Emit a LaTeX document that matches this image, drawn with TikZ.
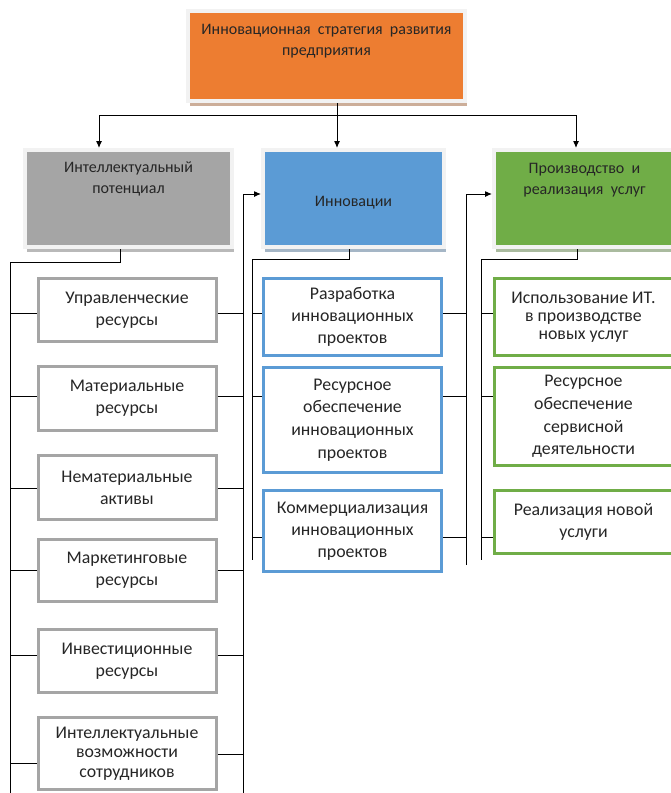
\documentclass[tikz,border=0pt]{standalone}
\usepackage{fontspec}
\setmainfont{Carlito}
\usetikzlibrary{positioning, arrows.meta, shadows}

\definecolor{orangeAcc}{HTML}{ED7D31}
\definecolor{grayAcc}{HTML}{A5A5A5}
\definecolor{blueAcc}{HTML}{5B9BD5}
\definecolor{greenAcc}{HTML}{70AD47}
\definecolor{textDark}{HTML}{262626}

\newcommand{\hdrfont}{\fontsize{16}{21.5}\selectfont}
\newcommand{\itemfont}{\fontsize{17.8}{22}\selectfont}

\begin{document}
\begin{tikzpicture}[
  x=1pt, y=-1pt,
  header/.style = {rectangle, fill=#1, draw=black!5, line width=4pt, inner sep=0pt,
    general shadow={fill=#1!60!black!45, shadow xshift=2pt, shadow yshift=-5pt}},
  headtext/.style = {align=center, font=\hdrfont, text=textDark, inner sep=0pt},
  item/.style = {rectangle, draw=#1, line width=3pt, fill=white, minimum width=178pt,
    align=center, font=\itemfont, text=textDark, inner sep=0pt},
  link/.style = {draw, line width=1pt},
  feed/.style = {link, ->, >={Latex[length=7pt, width=6pt]}}
]
  \useasboundingbox (0,0) rectangle (671,793);

  % Place the headings
  \node[header=orangeAcc, minimum width=277pt, minimum height=90pt] (strat) at (326.5,56) {};
  \node[headtext, below=15pt of strat.north] (strat-t) {Инновационная~ стратегия~ развития\\предприятия};

  \node[header=grayAcc, minimum width=207pt, minimum height=97pt] (pot) at (128.5,198.5) {};
  \node[headtext, below=13pt of pot.north] (pot-t) {Интеллектуальный\\потенциал};

  \node[header=blueAcc, minimum width=181pt, minimum height=97pt] (inn) at (353.5,198.5) {};
  \node[headtext, yshift=-4pt] (inn-t) at (inn.center) {Инновации};

  \node[header=greenAcc, minimum width=181pt, minimum height=97pt] (prod) at (584.5,198.5) {};
  \node[headtext, below=15pt of prod.north] (prod-t) {Производство~ и\\реализация~ услуг};

  % Place the resources
  \node[item=grayAcc, minimum height=63pt] (res1) at (127,310) {Управленческие\\ресурсы};
  \node[item=grayAcc, minimum height=64pt] (res2) at (127,398.5) {Материальные\\ресурсы};
  \node[item=grayAcc, minimum height=64pt] (res3) at (127,487.5) {Нематериальные\\активы};
  \node[item=grayAcc, minimum height=62pt] (res4) at (127,570.5) {Маркетинговые\\ресурсы};
  \node[item=grayAcc, minimum height=63pt] (res5) at (127,661) {Инвестиционные\\ресурсы};
  \node[item=grayAcc, minimum height=72pt, font=\fontsize{17.8}{19.5}\selectfont] (res6) at (127,753.5) {Интеллектуальные\\возможности\\сотрудников};

  % Place the innovation steps
  \node[item=blueAcc, minimum height=77pt] (inv1) at (352.5,317) {Разработка\\инновационных\\проектов};
  \node[item=blueAcc, minimum height=105pt, font=\fontsize{17.8}{22.7}\selectfont] (inv2) at (352.5,420) {Ресурсное\\обеспечение\\инновационных\\проектов};
  \node[item=blueAcc, minimum height=81pt] (inv3) at (352.5,531) {Коммерциализация\\инновационных\\проектов};

  % Place the services
  \node[item=greenAcc, minimum height=77pt, font=\fontsize{17.8}{18}\selectfont] (srv1) at (583.5,317) {Использование ИТ.\\в производстве\\новых услуг};
  \node[item=greenAcc, minimum height=98pt, font=\fontsize{17.8}{22.7}\selectfont] (srv2) at (583.5,416.5) {Ресурсное\\обеспечение\\сервисной\\деятельности};
  \node[item=greenAcc, minimum height=63pt] (srv3) at (583.5,522) {Реализация новой\\услуги};

  % Trunk points
  \coordinate (bus-l) at (99,115);
  \coordinate (bus-m) at (337,115);
  \coordinate (bus-r) at (576,115);
  \coordinate (pot-drop) at (120,262);
  \coordinate (lt) at (10,262);
  \coordinate (lt-end) at (10,800);
  \coordinate (gt) at (243,194);
  \coordinate (gt-end) at (243,800);
  \coordinate (inn-drop) at (349,259);
  \coordinate (bt) at (252,259);
  \coordinate (bt-end) at (252,560);
  \coordinate (it) at (466,194);
  \coordinate (it-end) at (466,565);
  \coordinate (prod-drop) at (577,259);
  \coordinate (st) at (481,259);
  \coordinate (st-end) at (481,560);

  % Draw the top level
  \draw[link] (strat.south -| bus-m) -- (bus-m);
  \draw[link] (bus-l) -- (bus-r);
  \draw[feed] (bus-l) -- (bus-l |- pot.north);
  \draw[feed] (bus-m) -- (bus-m |- inn.north);
  \draw[feed] (bus-r) -- (bus-r |- prod.north);

  % Draw the trunks
  \draw[link] (pot.south -| pot-drop) -- (pot-drop) -- (lt) -- (lt-end);
  \draw[link] (gt-end) -- (gt);
  \draw[feed] (gt) -- (gt -| inn.west);
  \draw[link] (inn.south -| inn-drop) -- (inn-drop) -- (bt) -- (bt-end);
  \draw[link] (it-end) -- (it);
  \draw[feed] (it) -- (it -| prod.west);
  \draw[link] (prod.south -| prod-drop) -- (prod-drop) -- (st) -- (st-end);

  % Draw the branches
  \foreach \n/\dl/\dr in {res1/3/3, res2/-2.5/-2.5, res3/0.5/0.5, res4/-0.5/-0.5, res5/-6/-6, res6/9.5/0.5}{
    \path (\n.west) ++(0,\dl) coordinate (\n-l);
    \path (\n.east) ++(0,\dr) coordinate (\n-r);
    \draw[link] (\n-l -| lt) -- (\n-l);
    \draw[link] (\n-r) -- (\n-r -| gt);
  }
  \foreach \n/\d in {inv1/-4, inv2/-24, inv3/6}{
    \path (\n.west) ++(0,\d) coordinate (\n-l);
    \path (\n.east) ++(0,\d) coordinate (\n-r);
    \draw[link] (\n-l -| bt) -- (\n-l);
    \draw[link] (\n-r) -- (\n-r -| it);
  }
  \foreach \n/\d in {srv1/-4, srv2/-20.5, srv3/15}{
    \path (\n.west) ++(0,\d) coordinate (\n-l);
    \draw[link] (\n-l -| st) -- (\n-l);
  }
\end{tikzpicture}
\end{document}
